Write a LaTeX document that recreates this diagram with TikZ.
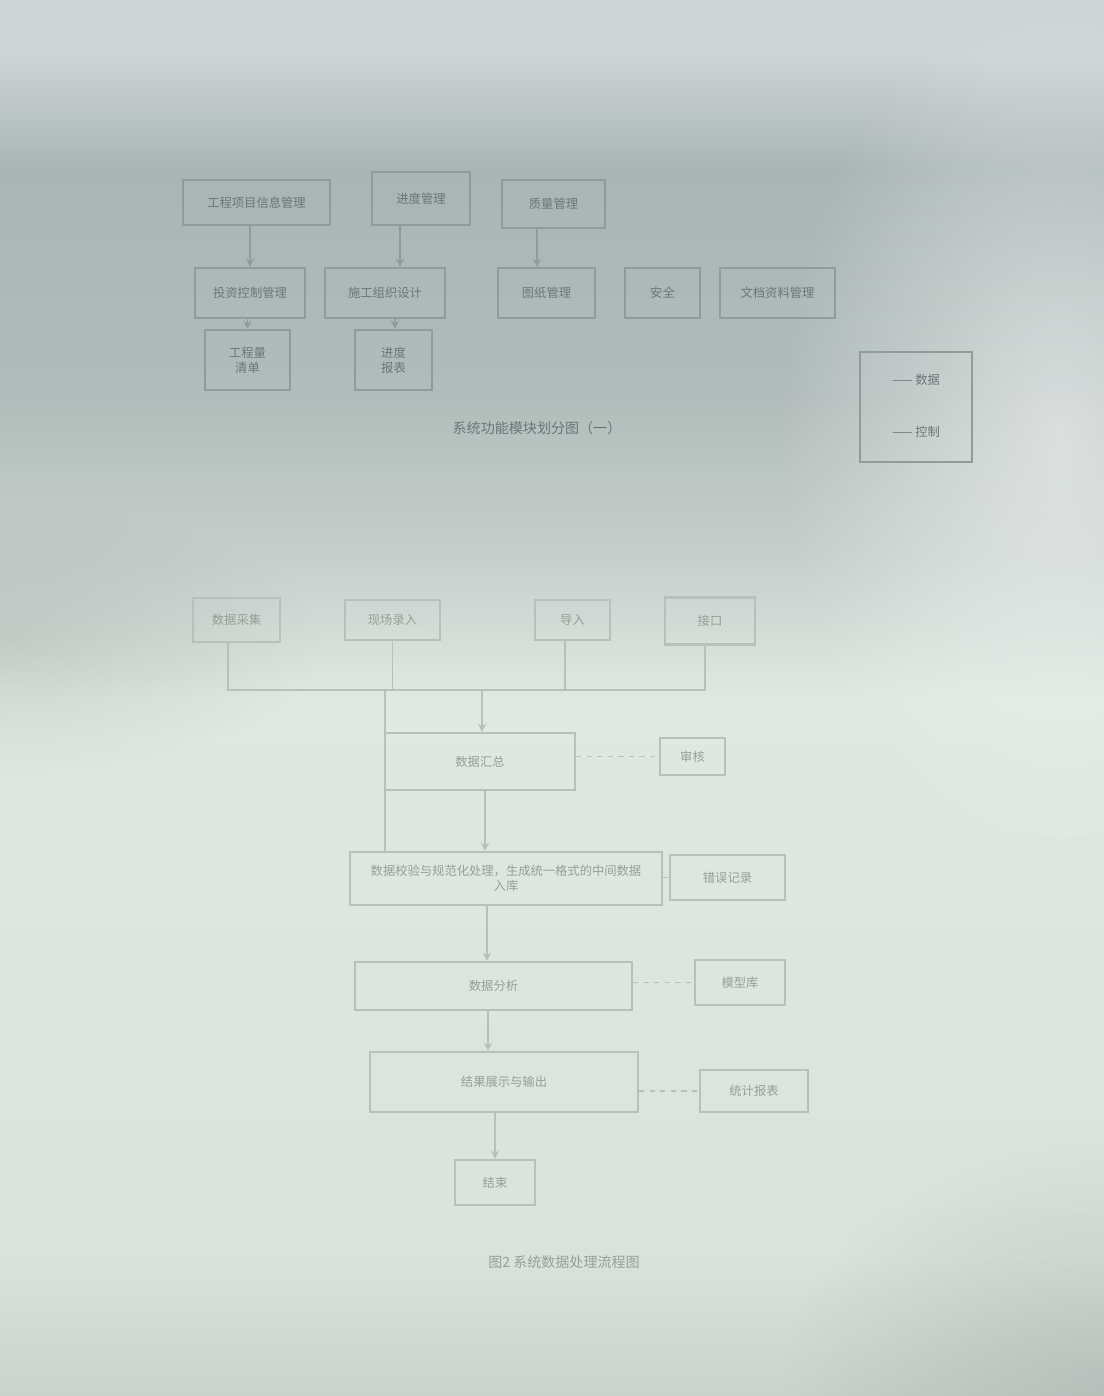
\documentclass[tikz,border=0pt]{standalone}
\usepackage{fontspec}
\newfontfamily\cjk{Noto Sans CJK SC}
\usetikzlibrary{fadings}
\definecolor{bgbot}{HTML}{CAD2CD}
\definecolor{bgpale2}{HTML}{D9E2DB}
\definecolor{bgpale}{HTML}{DFE8E1}
\definecolor{bgsoft}{HTML}{C6CFCC}
\definecolor{bgmid2}{HTML}{B1BCBA}
\definecolor{bgmid}{HTML}{A9B5B4}
\definecolor{bgtop}{HTML}{CDD5D4}
\definecolor{linetop}{HTML}{909C9A}
\definecolor{txttop}{HTML}{6A7776}
\definecolor{linebot}{HTML}{B6C1B9}
\definecolor{txtbot}{HTML}{94A098}
\pgfdeclareverticalshading{photo}{100bp}{color(0bp)=(bgbot); color(25bp)=(bgbot);
  color(30bp)=(bgpale2); color(50bp)=(bgpale); color(55bp)=(bgsoft);
  color(61bp)=(bgmid2); color(69bp)=(bgmid); color(73bp)=(bgtop);
  color(75bp)=(bgtop); color(100bp)=(bgtop)}
\tikzfading[name=softspot, inner color=transparent!0, outer color=transparent!100]
\begin{document}
\begin{tikzpicture}[x=0.02cm, y=-0.02cm, >=stealth,
  blk/.style={draw=linetop, line width=1.3pt, inner sep=0pt, align=center,
    text=txttop, font=\cjk\fontsize{7pt}{8.5pt}\selectfont},
  blkb/.style={blk, draw=linebot, text=txtbot},
  link/.style={draw=linetop, line width=1.1pt},
  linkb/.style={draw=linebot, line width=1.1pt}]
  \useasboundingbox (0,0) rectangle (1104,1396);

  % 1. 背景 (写真の明暗)
  \shade[shading=photo] (0,0) rectangle (1104,1396);
  \fill[white, path fading=softspot, opacity=0.5] (1060,430) ellipse [x radius=280, y radius=440];
  \fill[gray, path fading=softspot, opacity=0.25] (1104,1396) ellipse [x radius=320, y radius=260];
  \fill[gray, path fading=softspot, opacity=0.2] (0,640) ellipse [x radius=320, y radius=140];

  % 2. 上図 第1段
  \node[blk, minimum width=2.94cm, minimum height=0.9cm] (A) at (256.5,202.5) {工程项目信息管理};
  \node[blk, minimum width=1.96cm, minimum height=1.06cm] (B) at (421,198.5) {进度管理};
  \node[blk, minimum width=2.06cm, minimum height=0.96cm] (C) at (553.5,204) {质量管理};

  % 3. 上図 第2段
  \node[blk, minimum width=2.2cm, minimum height=1.0cm] (r1) at (250,293) {投资控制管理};
  \node[blk, minimum width=2.4cm, minimum height=1.0cm] (r2) at (385,293) {施工组织设计};
  \node[blk, minimum width=1.94cm, minimum height=1.0cm] (r3) at (546.5,293) {图纸管理};
  \node[blk, minimum width=1.5cm, minimum height=1.0cm] (r4) at (662.5,293) {安全};
  \node[blk, minimum width=2.3cm, minimum height=1.0cm] (r5) at (777.5,293) {文档资料管理};

  % 4. 上図 第3段
  \node[blk, minimum width=1.7cm, minimum height=1.2cm] (s1) at (247.5,360) {工程量\\清单};
  \node[blk, minimum width=1.54cm, minimum height=1.2cm] (s2) at (393.5,360) {进度\\报表};

  % 5. 上図 矢印
  \draw[link, ->] (A.south -| r1) -- (r1.north);
  \draw[link, ->] (B.south -| 400,0) -- (r2.north -| 400,0);
  \draw[link, ->] (C.south -| 537,0) -- (r3.north -| 537,0);
  \draw[link, ->] (r1.south -| s1) -- (s1.north);
  \draw[link, ->] (r2.south -| 395,0) -- (s2.north -| 395,0);

  % 6. 上図 図題と凡例
  \node[text=txttop, font=\cjk\fontsize{8pt}{9pt}\selectfont] (cap1) at (537,428) {系统功能模块划分图（一）};
  \node[blk, minimum width=2.24cm, minimum height=2.2cm] (leg) at (916,407) {};
  \node[text=txttop, font=\cjk\fontsize{7pt}{8pt}\selectfont] (leg1) at (916,380) {—— 数据};
  \node[text=txttop, font=\cjk\fontsize{7pt}{8pt}\selectfont] (leg2) at (916,432) {—— 控制};

  % 7. 下図 入力段
  \node[blkb, minimum width=1.74cm, minimum height=0.88cm] (t1) at (236.5,620) {数据采集};
  \node[blkb, minimum width=1.9cm, minimum height=0.8cm] (t2) at (392.5,620) {现场录入};
  \node[blkb, minimum width=1.5cm, minimum height=0.8cm] (t3) at (572.5,620) {导入};
  \node[blkb, minimum width=1.8cm, minimum height=0.94cm] (t4) at (710,621) {接口};
  \coordinate (busL) at (228,690);
  \coordinate (busR) at (705,690);
  \draw[linkb] (t1.south -| busL) -- (busL) -- (busR) -- (t4.south -| busR);
  \draw[linkb] (t2.south) -- (t2.south |- busL);
  \draw[linkb] (t3.south -| 565,0) -- (565,690);

  % 8. 下図 処理の流れ
  \node[blkb, minimum width=3.8cm, minimum height=1.14cm] (m1) at (480,761.5) {数据汇总};
  \node[blkb, minimum width=6.24cm, minimum height=1.06cm] (m2) at (506,878.5) {数据校验与规范化处理，生成统一格式的中间数据\\入库};
  \node[blkb, minimum width=5.54cm, minimum height=0.96cm] (m3) at (493.5,986) {数据分析};
  \node[blkb, minimum width=5.36cm, minimum height=1.2cm] (m4) at (504,1082) {结果展示与输出};
  \node[blkb, minimum width=1.6cm, minimum height=0.9cm] (m5) at (495,1182.5) {结束};

  % 9. 下図 右側の補助ブロック
  \node[blkb, minimum width=1.3cm, minimum height=0.74cm] (sm1) at (692.5,756.5) {审核};
  \node[blkb, minimum width=2.3cm, minimum height=0.9cm] (sm2) at (727.5,877.5) {错误记录};
  \node[blkb, minimum width=1.8cm, minimum height=0.9cm] (sm3) at (740,982.5) {模型库};
  \node[blkb, minimum width=2.16cm, minimum height=0.84cm] (sm4) at (754,1091) {统计报表};

  % 10. 下図 矢印と破線
  \draw[linkb, ->] (482,690) -- (m1.north -| 482,0);
  \draw[linkb] (385,690) -- (m2.north -| 385,0);
  \draw[linkb, ->] (m1.south -| 485,0) -- (m2.north -| 485,0);
  \draw[linkb, ->] (m2.south -| 487,0) -- (m3.north -| 487,0);
  \draw[linkb, ->] (m3.south -| 488,0) -- (m4.north -| 488,0);
  \draw[linkb, ->] (m4.south -| m5) -- (m5.north);
  \draw[linkb, dashed] (m1.east |- sm1) -- (sm1.west);
  \draw[linkb, dashed] (m2.east |- sm2) -- (sm2.west);
  \draw[linkb, dashed] (m3.east |- sm3) -- (sm3.west);
  \draw[linkb, dashed] (m4.east |- sm4) -- (sm4.west);

  % 11. 下図 図題
  \node[text=txtbot, font=\cjk\fontsize{8pt}{9pt}\selectfont] (cap2) at (564,1262) {图2 系统数据处理流程图};
\end{tikzpicture}
\end{document}
